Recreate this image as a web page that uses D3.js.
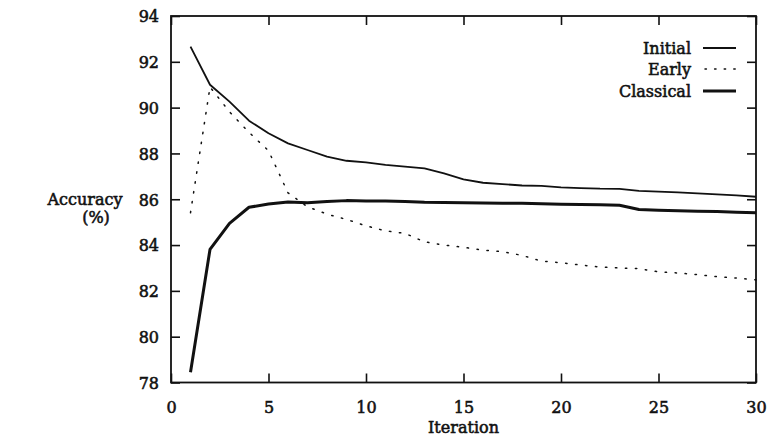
<!DOCTYPE html>
<html>
<head>
<meta charset="utf-8">
<script src="https://cdn.jsdelivr.net/npm/d3@7"></script>
<style>
html,body{margin:0;padding:0;background:#fff;}
svg{display:block;}
text{font-family:"DejaVu Serif",serif;fill:#111;}
</style>
</head>
<body>
<svg id="chart" width="784" height="438"></svg>
<script>
const iterations = d3.range(1, 31);
const initialAcc = [92.66, 91.0, 90.26, 89.43, 88.88, 88.44, 88.15, 87.86, 87.68, 87.61,
  87.5, 87.42, 87.35, 87.13, 86.87, 86.72, 86.66, 86.6, 86.58, 86.52,
  86.49, 86.46, 86.45, 86.37, 86.33, 86.3, 86.26, 86.21, 86.17, 86.11];
const earlyAcc = [85.41, 90.9, 89.82, 88.92, 88.12, 86.28, 85.67, 85.35, 85.12, 84.84,
  84.62, 84.51, 84.14, 84.0, 83.9, 83.78, 83.71, 83.55, 83.3, 83.23,
  83.13, 83.04, 83.0, 82.97, 82.83, 82.78, 82.71, 82.62, 82.56, 82.48];
const classicalAcc = [78.45, 83.81, 84.95, 85.65, 85.79, 85.88, 85.85, 85.9, 85.94, 85.92,
  85.92, 85.9, 85.87, 85.86, 85.85, 85.84, 85.83, 85.82, 85.8, 85.78,
  85.77, 85.76, 85.74, 85.55, 85.52, 85.5, 85.48, 85.46, 85.43, 85.41];
const seriesNames = ["Initial", "Early", "Classical"];
const xTicks = [0, 5, 10, 15, 20, 25, 30];
const yTicks = [78, 80, 82, 84, 86, 88, 90, 92, 94];

const FONT = '"DejaVu Serif", serif';
const FS = 16;
const svg = d3.select("#chart");
const pL = 171, pR = 756, pT = 16, pB = 382.5;
const x = d3.scaleLinear().domain([0, 30]).range([pL, pR]);
const y = d3.scaleLinear().domain([78, 94]).range([pB, pT]);

const styles = {
  Initial: {w: 1.8, dash: null},
  Early: {w: 1.5, dash: "1.4,8.6"},
  Classical: {w: 3.0, dash: null}
};
const data = {Initial: initialAcc, Early: earlyAcc, Classical: classicalAcc};

function styleText(sel) {
  sel.attr("font-family", FONT).attr("font-size", FS).attr("fill", "#111")
    .attr("stroke", "#111").attr("stroke-width", 0.55);
}

// frame
svg.append("rect").attr("x", pL).attr("y", pT).attr("width", pR - pL).attr("height", pB - pT)
  .attr("fill", "none").attr("stroke", "#111").attr("stroke-width", 1.8);

const tl = 9;
const axB = svg.append("g").attr("transform", `translate(0,${pB})`)
  .call(d3.axisBottom(x).tickValues(xTicks).tickSizeInner(-tl).tickSizeOuter(0).tickPadding(19).tickFormat(d3.format("d")));
const axT = svg.append("g").attr("transform", `translate(0,${pT})`)
  .call(d3.axisTop(x).tickValues(xTicks).tickSizeInner(-tl).tickSizeOuter(0).tickFormat(""));
const axL = svg.append("g").attr("transform", `translate(${pL},0)`)
  .call(d3.axisLeft(y).tickValues(yTicks).tickSizeInner(-tl).tickSizeOuter(0).tickPadding(12).tickFormat(d3.format("d")));
const axR = svg.append("g").attr("transform", `translate(${pR},0)`)
  .call(d3.axisRight(y).tickValues(yTicks).tickSizeInner(-tl).tickSizeOuter(0).tickFormat(""));
[axB, axT, axL, axR].forEach(g => {
  g.select(".domain").remove();
  g.selectAll(".tick line").attr("stroke", "#111").attr("stroke-width", 1.6);
  styleText(g.selectAll("text"));
});
axL.selectAll("text").attr("dy", "0.36em");

const line = d3.line().x((d, i) => x(iterations[i])).y(d => y(d));
seriesNames.forEach(n => {
  const p = svg.append("path").datum(data[n]).attr("d", line)
    .attr("fill", "none").attr("stroke", "#111").attr("stroke-width", styles[n].w)
    .attr("stroke-linejoin", "round");
  if (styles[n].dash) p.attr("stroke-dasharray", styles[n].dash).attr("stroke-linecap", "round");
});

// legend
const legY = [48, 69, 91];
seriesNames.forEach((n, i) => {
  svg.append("text").attr("x", 691).attr("y", legY[i]).attr("dy", "0.36em")
    .attr("text-anchor", "end").call(styleText).text(n);
  const l = svg.append("line").attr("x1", 703).attr("x2", 736).attr("y1", legY[i]).attr("y2", legY[i])
    .attr("stroke", "#111").attr("stroke-width", styles[n].w);
  if (styles[n].dash) l.attr("stroke-dasharray", "1.4,8.2").attr("stroke-linecap", "round").attr("x1", 705);
});

// axis titles
svg.append("text").attr("x", x(15)).attr("y", 433).attr("text-anchor", "middle")
  .call(styleText).text("Iteration");
const yl = svg.append("text").attr("text-anchor", "middle").call(styleText);
yl.append("tspan").attr("x", 85).attr("y", 205).text("Accuracy");
yl.append("tspan").attr("x", 96).attr("y", 223).text("(%)");
</script>
</body>
</html>
